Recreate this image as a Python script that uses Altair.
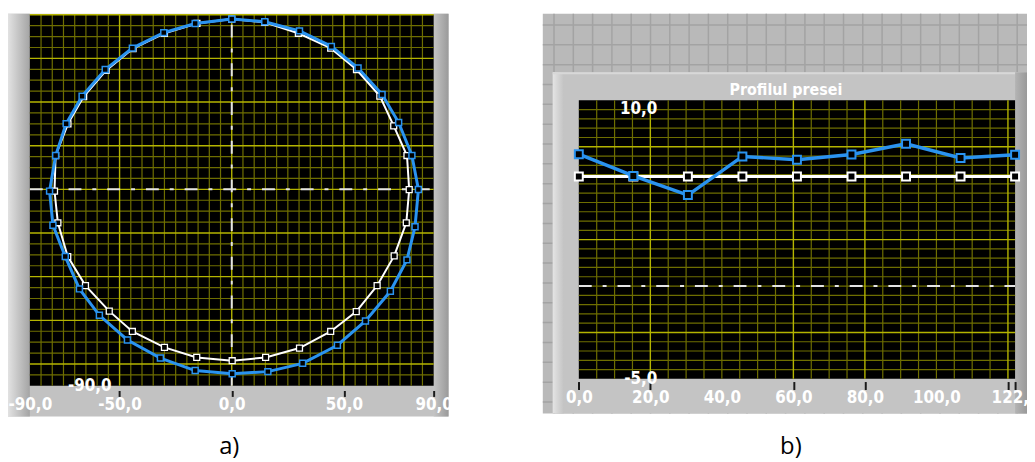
import altair as alt
import pandas as pd

# ---------------- data ----------------
# a) contour of the part: measured (blue) and reference (white)
a_blue_x = [0.0, 14.7, 30.2, 44.4, 56.3, 67.0, 74.4, 80.3, 83.2, 81.7, 78.1, 70.7, 59.6, 47.1, 31.6, 16.1,
            0.2, -16.3, -31.8, -46.5, -59.0, -67.9, -74.2, -79.7, -81.2, -78.5, -73.8, -66.7, -56.4, -44.3, -30.3, -16.3]
a_blue_y = [78.0, 76.8, 72.6, 65.5, 55.6, 43.5, 30.6, 15.5, -0.1, -17.1, -32.3, -46.7, -60.3, -71.4, -79.7, -83.5,
            -84.5, -83.0, -77.3, -69.0, -57.7, -45.6, -30.8, -16.4, -0.8, 15.5, 30.1, 42.7, 54.9, 64.7, 71.8, 76.0]
a_white_x = [0.0, 14.7, 29.7, 44.1, 55.6, 66.0, 72.2, 78.1, 79.1, 77.8, 72.4, 64.8, 55.5, 44.1, 30.2, 15.1,
             0.2, -15.6, -30.0, -44.3, -54.6, -65.2, -73.1, -77.5, -79.0, -78.5, -73.0, -66.0, -56.0, -44.0, -30.0, -15.5]
a_white_y = [78.0, 76.5, 71.5, 64.7, 54.9, 42.7, 29.1, 15.5, -0.1, -15.3, -30.5, -44.1, -56.0, -65.1, -72.7, -77.0,
             -78.5, -77.0, -72.4, -65.1, -55.8, -44.1, -30.8, -15.3, -0.8, 15.5, 30.0, 42.5, 54.5, 64.5, 71.5, 76.0]

# b) "Profilul presei"
b_x = [0, 15.25, 30.5, 45.75, 61, 76.25, 91.5, 106.75, 122]
b_blue = [7.1, 5.93, 4.9, 6.98, 6.8, 7.08, 7.66, 6.9, 7.07]
b_white = [5.9, 5.9, 5.9, 5.9, 5.9, 5.9, 5.9, 5.9, 5.9]

# tick labels
a_x_ticks = [-90, -50, 0, 50, 90]
a_y_ticks = [-90]
b_x_ticks = [0, 20, 40, 60, 80, 100, 120, 122]
b_y_ticks = [-5, 10]
title_b = "Profilul presei"
caption_a = "a)"
caption_b = "b)"

# grid values
a_major_x = [-50, 0, 50]
a_minor_x = [v for v in range(-85, 90, 5) if v not in a_major_x]
a_major_y = [-80, -60, -40, -20, 0, 20, 40, 60, 80]
a_minor_y = [v for v in range(-85, 80, 5) if v not in a_major_y]
b_major_x = [20, 60, 80, 120]
b_minor_x = [v for v in range(5, 122, 5) if v not in b_major_x]
b_major_y = [-2.5, 2.5, 7.5]
b_minor_y = [k / 2 for k in range(-9, 20) if k / 2 not in b_major_y]

# ---------------- style ----------------
FONT = "DejaVu Sans Condensed"
BLUE = "#2a93f0"
MINOR = "#6e6e00"
MAJOR = "#b4b400"
DASH = [13, 11, 4, 11]
W, H = 1027, 454

ax = alt.Scale(domain=[-90, 90], range=[22, 429], nice=False, zero=False)
ay = alt.Scale(domain=[-90, 80], range=[379, 5], nice=False, zero=False)
bx = alt.Scale(domain=[0, 122], range=[575.3, 1015], nice=False, zero=False)
by = alt.Scale(domain=[-5, 10], range=[372, 91.3], nice=False, zero=False)

fmt = "replace(replace(format(datum.value, '.1f'), '.', ','), '\u2212', '-')"
LAB = dict(labelColor="white", labelFont=FONT, labelFontSize=17, labelFontWeight="bold",
           labelOverlap=False, labelFlush=False, labelBound=False, domain=False, grid=False,
           title=None, zindex=1)

axis_a_x = alt.Axis(orient="bottom", values=a_x_ticks, offset=-70.3, tickSize=6, tickWidth=2,
                    tickColor="#1a1a1a",
                    tickOpacity={"condition": {"test": "datum.value == -90", "value": 0}, "value": 1},
                    labelPadding=0, labelExpr=fmt, **LAB)
axis_a_y = alt.Axis(orient="left", values=a_y_ticks, offset=-104, ticks=False, labelPadding=0,
                    labelBaseline="middle", labelExpr=fmt, **LAB)
axis_b_x = alt.Axis(orient="bottom", values=b_x_ticks, offset=-79.3, tickSize=8, tickWidth=2,
                    tickColor="#1a1a1a",
                    tickOpacity={"condition": {"test": "datum.value == 40 || datum.value == 100", "value": 0},
                                 "value": 1},
                    labelPadding=0, labelExpr="datum.value == 120 ? '' : " + fmt, **LAB)
axis_b_y = alt.Axis(orient="left", values=b_y_ticks, offset=-654, ticks=False, labelPadding=0,
                    labelBaseline={"condition": {"test": "datum.value == 10", "value": "top"}, "value": "middle"},
                    labelExpr=fmt, **LAB)

ONE = alt.Data(values=[{}])


def box(x, x2, y, y2, color):
    return alt.Chart(ONE).mark_rect(color=color).encode(
        x=alt.value(x), x2=alt.value(x2), y=alt.value(y), y2=alt.value(y2))


def hgrad(c1, c2):
    return alt.Gradient(gradient="linear", x1=0, x2=1, y1=0, y2=0,
                        stops=[alt.GradientStop(color=c1, offset=0), alt.GradientStop(color=c2, offset=1)])


def vrules(vals, xs, ys, lo, hi, color, width, dash=None):
    df = pd.DataFrame({"v": vals, "lo": [lo] * len(vals), "hi": [hi] * len(vals)})
    kw = {"strokeDash": dash} if dash else {}
    return alt.Chart(df).mark_rule(color=color, strokeWidth=width, **kw).encode(
        x=alt.X("v:Q", scale=xs, title=None), y=alt.Y("lo:Q", scale=ys, title=None), y2="hi:Q")


def hrules(vals, xs, ys, lo, hi, color, width, dash=None):
    df = pd.DataFrame({"v": vals, "lo": [lo] * len(vals), "hi": [hi] * len(vals)})
    kw = {"strokeDash": dash} if dash else {}
    return alt.Chart(df).mark_rule(color=color, strokeWidth=width, **kw).encode(
        y=alt.Y("v:Q", scale=ys, title=None), x=alt.X("lo:Q", scale=xs, title=None), x2="hi:Q")


def trace(xv, yv, xs, ys, color, lw, msize, mw, closed):
    n = len(xv)
    pts = pd.DataFrame({"x": xv, "y": yv, "i": list(range(n))})
    ln = pts
    if closed:
        ln = pd.concat([pts, pd.DataFrame({"x": [xv[0]], "y": [yv[0]], "i": [n]})], ignore_index=True)
    line = alt.Chart(ln).mark_line(color=color, strokeWidth=lw).encode(
        x=alt.X("x:Q", scale=xs, title=None), y=alt.Y("y:Q", scale=ys, title=None), order="i:Q")
    mk = alt.Chart(pts).mark_point(shape="square", size=msize, filled=True, fill="black", stroke=color,
                                   strokeWidth=mw, opacity=1).encode(
        x=alt.X("x:Q", scale=xs, title=None), y=alt.Y("y:Q", scale=ys, title=None))
    return [line, mk]


# ---------------- panel a ----------------
bg_a = alt.Chart(pd.DataFrame({"x": [-90], "x2": [90], "y": [-90], "y2": [80]})).mark_rect(color="black").encode(
    x=alt.X("x:Q", scale=ax, axis=axis_a_x), x2="x2:Q",
    y=alt.Y("y:Q", scale=ay, axis=axis_a_y), y2="y2:Q")

panel_a = alt.layer(
    bg_a,
    vrules(a_minor_x, ax, ay, -90, 80, MINOR, 1.2),
    hrules(a_minor_y, ax, ay, -90, 90, MINOR, 1.2),
    vrules(a_major_x, ax, ay, -90, 80, MAJOR, 1.4),
    hrules(a_major_y, ax, ay, -90, 90, MAJOR, 1.4),
    vrules([0], ax, ay, -90, 80, "#e4e4e4", 2, DASH),
    hrules([0], ax, ay, -90, 90, "#e4e4e4", 2, DASH),
    *trace(a_white_x, a_white_y, ax, ay, "white", 2, 36, 1.3, True),
    *trace(a_blue_x, a_blue_y, ax, ay, BLUE, 3, 36, 1.5, True),
)

# ---------------- panel b ----------------
bg_b = alt.Chart(pd.DataFrame({"x": [0], "x2": [122], "y": [-5], "y2": [10]})).mark_rect(color="black").encode(
    x=alt.X("x:Q", scale=bx, axis=axis_b_x), x2="x2:Q",
    y=alt.Y("y:Q", scale=by, axis=axis_b_y), y2="y2:Q")

panel_b = alt.layer(
    bg_b,
    vrules(b_minor_x, bx, by, -5, 10, MINOR, 1.2),
    hrules(b_minor_y, bx, by, 0, 122, MINOR, 1.2),
    vrules(b_major_x, bx, by, -5, 10, MAJOR, 1.4),
    hrules(b_major_y, bx, by, 0, 122, MAJOR, 1.4),
    hrules([0], bx, by, 0, 122, "#e4e4e4", 2, DASH),
    *trace(b_x, b_white, bx, by, "white", 3, 64, 2, False),
    *trace(b_x, b_blue, bx, by, BLUE, 3.5, 64, 2, False),
)

# ---------------- decoration (LabVIEW frames) ----------------
pat_v = pd.DataFrame({"px": [550.3 + 19.45 * k for k in range(25)]})
pat_h = pd.DataFrame({"py": [15.3 + 20 * k for k in range(20)]})

deco = [
    box(0, 444, 4, 410, "#c2c2c2"),
    box(0, 22, 4, 410, hgrad("#e2e2e2", "#a4a4a4")),
    box(429, 444, 4, 410, hgrad("#c4c4c4", "#9a9a9a")),
    box(539, 1027, 4, 407, "#b9b9b9"),
    alt.Chart(pat_v).mark_rule(color="#a3a3a3", strokeWidth=1.5).encode(
        x=alt.X("px:Q", scale=None), y=alt.value(4), y2=alt.value(407)),
    alt.Chart(pat_h).mark_rule(color="#a3a3a3", strokeWidth=1.5).encode(
        y=alt.Y("py:Q", scale=None), x=alt.value(539), x2=alt.value(1027)),
    box(549, 1027, 63, 407, "#c4c4c4"),
    box(549, 560, 63, 407, hgrad("#e4e4e4", "#c4c4c4")),
    box(549, 1027, 63, 65, "#d8d8d8"),
    box(1015, 1027, 63, 407, hgrad("#b4b4b4", "#999999")),
]

texts = [
    alt.Chart(ONE).mark_text(text=title_b, font=FONT, fontSize=16, fontWeight="bold", color="white",
                             align="center", baseline="middle").encode(x=alt.value(784), y=alt.value(81)),
    alt.Chart(ONE).mark_text(text=caption_a, font="Open Sans", fontSize=24, color="black",
                             align="center", baseline="middle").encode(x=alt.value(223), y=alt.value(441)),
    alt.Chart(ONE).mark_text(text=caption_b, font="Open Sans", fontSize=24, color="black",
                             align="center", baseline="middle").encode(x=alt.value(789), y=alt.value(441)),
]

chart = alt.layer(*deco, panel_a, panel_b, *texts).resolve_scale(
    x="independent", y="independent"
).properties(
    width=W, height=H, padding=0, autosize=alt.AutoSizeParams(type="none"), background="white"
).configure_view(stroke=None).configure_axis(grid=False, domain=False)

chart.save("out.html", embed_options={"renderer": "svg", "actions": False})
